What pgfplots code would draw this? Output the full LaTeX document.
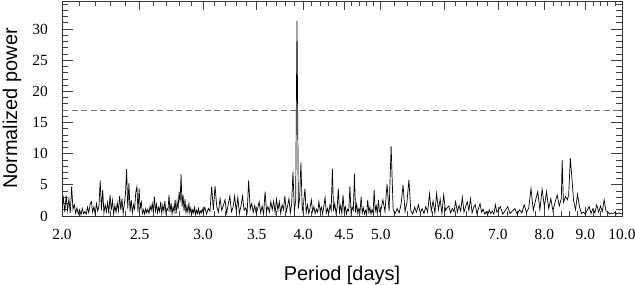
\documentclass[border=0pt]{standalone}
\usepackage{fontspec}
\setmainfont{Liberation Serif}
\newfontfamily\labelfont{Liberation Sans}
\usepackage{pgfplots}
\pgfplotsset{compat=1.18}
\begin{document}
\begin{tikzpicture}
\begin{axis}[
 scale only axis, width=560bp, height=215bp,
 xmode=log, xmin=2, xmax=10, ymin=0, ymax=34.5,
 xtick={2,2.5,3,3.5,4,4.5,5,6,7,8,9,10},
 xticklabels={2.0,2.5,3.0,3.5,4.0,4.5,5.0,6.0,7.0,8.0,9.0,10.0},
 minor xtick={2.1,2.2,2.3,2.4,2.6,2.7,2.8,2.9,3.1,3.2,3.3,3.4,3.6,3.7,3.8,3.9,4.1,4.2,4.3,4.4,4.6,4.7,4.8,4.9,5.2,5.4,5.6,5.8,6.2,6.4,6.6,6.8,7.2,7.4,7.6,7.8,8.2,8.4,8.6,8.8,9.2,9.4,9.6,9.8},
 ytick={0,5,10,15,20,25,30},
 minor ytick={1,2,3,4,6,7,8,9,11,12,13,14,16,17,18,19,21,22,23,24,26,27,28,29,31,32,33,34},
 tick align=inside, tick pos=both,
 major tick length=11bp, minor tick length=6bp,
 xtick style={/pgfplots/major tick length=9bp, /pgfplots/minor tick length=5bp},
 every tick/.style={black!75, line width=0.7bp},
 axis line style={black!80, line width=0.8bp},
 /pgf/number format/assume math mode=true,
 tick label style={font=\fontsize{15.5}{16}\selectfont},
 yticklabel style={anchor=east, inner sep=0pt, xshift=-14bp},
 xticklabel style={anchor=base, inner sep=0pt, yshift=-23bp},
 xlabel={Period [days]}, ylabel={Normalized power},
 label style={font=\labelfont\fontsize{20}{22}\selectfont},
 xlabel style={at={(axis description cs:0.5,-0.2977)}, anchor=base},
 ylabel style={at={(axis description cs:-0.0893,0.5)}, anchor=center},
]
\addplot[black!55, dash pattern=on 6bp off 3.5bp, line width=0.8bp] coordinates {(2,16.9) (10,16.9)};
\addplot[black, line width=0.7bp] coordinates {
(2.000,1.2) (2.008,2.9) (2.016,0.6) (2.024,3.3) (2.032,0.9) (2.040,2.7) (2.048,0.5) (2.056,4.7) (2.064,1.1) (2.072,1.8)
(2.080,0.4) (2.088,1.3) (2.096,0.3) (2.104,1.0) (2.112,0.2) (2.120,1.2) (2.128,0.4) (2.136,0.7) (2.144,0.3) (2.152,1.4)
(2.160,0.5) (2.168,1.9) (2.176,2.3) (2.184,0.6) (2.192,1.5) (2.200,0.3) (2.208,2.0) (2.216,0.8) (2.224,1.6) (2.232,5.7)
(2.240,0.9) (2.248,4.2) (2.256,0.5) (2.264,1.8) (2.272,0.7) (2.280,2.2) (2.288,0.4) (2.296,3.4) (2.304,0.9) (2.312,2.5)
(2.320,0.3) (2.328,1.7) (2.336,0.6) (2.344,2.1) (2.352,0.8) (2.360,3.2) (2.368,1.0) (2.376,2.8) (2.384,0.4) (2.392,1.9)
(2.400,3.5) (2.408,7.5) (2.416,1.2) (2.424,5.3) (2.432,0.7) (2.440,2.6) (2.448,0.5) (2.456,1.8) (2.464,1.1) (2.472,3.8)
(2.480,4.7) (2.488,0.6) (2.496,4.4) (2.504,1.3) (2.512,2.2) (2.520,0.4) (2.528,1.0) (2.536,0.3) (2.544,1.2) (2.552,0.5)
(2.560,1.1) (2.568,0.4) (2.576,1.6) (2.584,0.9) (2.592,2.0) (2.600,0.6) (2.608,3.1) (2.616,0.8) (2.624,1.9) (2.632,0.5)
(2.640,1.4) (2.648,0.7) (2.656,2.3) (2.664,0.4) (2.672,1.7) (2.680,0.8) (2.688,2.4) (2.696,0.5) (2.704,1.2) (2.712,0.9)
(2.720,3.4) (2.728,0.6) (2.736,2.1) (2.744,0.3) (2.752,1.5) (2.760,0.7) (2.768,2.6) (2.776,0.4) (2.784,2.3) (2.792,1.1)
(2.800,3.9) (2.808,2.2) (2.816,6.7) (2.824,1.5) (2.832,3.4) (2.840,0.8) (2.848,2.7) (2.856,0.4) (2.864,1.6) (2.872,0.6)
(2.880,2.0) (2.888,0.5) (2.896,1.3) (2.904,0.3) (2.912,1.0) (2.920,0.5) (2.928,1.4) (2.936,0.2) (2.944,0.9) (2.952,0.4)
(2.960,1.2) (2.968,0.3) (2.976,0.8) (2.984,0.5) (2.992,1.1)
(3.000,0.6) (3.015,1.4) (3.030,0.3) (3.045,1.2) (3.060,0.8) (3.075,4.7) (3.090,1.0) (3.105,4.8) (3.120,1.5) (3.135,0.6)
(3.150,2.8) (3.165,0.9) (3.180,1.7) (3.195,2.6) (3.210,0.5) (3.225,1.9) (3.240,3.2) (3.255,0.7) (3.270,1.4) (3.285,3.2)
(3.300,0.8) (3.315,3.0) (3.330,0.4) (3.345,1.6) (3.360,3.2) (3.375,0.9) (3.390,1.3) (3.405,0.5) (3.420,5.7) (3.435,1.1)
(3.450,2.0) (3.465,0.6) (3.480,1.7) (3.495,0.4) (3.510,1.2) (3.525,2.3) (3.540,0.5) (3.555,1.6) (3.570,0.3) (3.585,3.9)
(3.600,0.8) (3.615,1.5) (3.630,0.6) (3.645,2.3) (3.660,1.0) (3.675,2.4) (3.690,0.5) (3.705,2.7) (3.720,0.9) (3.735,2.3)
(3.750,0.4) (3.765,1.8) (3.780,1.0) (3.795,3.2) (3.810,0.7) (3.825,1.6) (3.840,2.8) (3.855,0.5) (3.870,1.9) (3.885,7.1)
(3.900,0.8) (3.915,2.5) (3.925,22.0) (3.930,31.3) (3.945,1.2) (3.960,2.9) (3.975,8.6) (3.990,0.9) (4.005,2.1) (4.020,4.4)
(4.035,0.6) (4.050,1.8) (4.065,0.4) (4.080,1.3) (4.095,2.6) (4.110,0.7) (4.125,1.5) (4.140,0.4) (4.155,1.1) (4.170,0.6)
(4.185,2.3) (4.200,0.8) (4.215,1.4) (4.230,0.3) (4.245,1.6) (4.260,3.0) (4.275,0.5) (4.290,1.2) (4.305,0.4) (4.320,1.8)
(4.335,0.9) (4.350,7.6) (4.365,0.8) (4.380,2.0) (4.395,0.5) (4.410,1.3) (4.425,4.4) (4.440,0.6) (4.455,1.7) (4.470,0.4)
(4.485,3.4) (4.500,0.7) (4.515,1.5) (4.530,0.3) (4.545,1.1) (4.560,0.8) (4.575,4.8) (4.590,0.5) (4.605,1.4) (4.620,0.9)
(4.635,6.8) (4.650,0.6) (4.665,1.9) (4.680,0.4) (4.695,1.2) (4.710,0.7) (4.725,3.1) (4.740,0.5) (4.755,1.3) (4.770,0.3)
(4.785,0.9) (4.800,0.4) (4.815,2.6) (4.830,0.6) (4.845,1.4) (4.860,0.3) (4.875,1.0) (4.890,0.5) (4.905,4.2) (4.920,0.8)
(4.935,1.6) (4.950,0.4) (4.965,2.6) (4.980,0.7)
(5.00,0.9) (5.03,2.6) (5.06,0.7) (5.09,5.1) (5.12,0.8) (5.15,11.2) (5.18,1.0) (5.21,0.4) (5.24,1.2) (5.27,0.5)
(5.30,1.9) (5.33,5.0) (5.36,0.7) (5.39,2.2) (5.42,5.8) (5.45,0.9) (5.48,0.3) (5.51,1.4) (5.54,0.6) (5.57,1.8)
(5.60,0.5) (5.63,1.2) (5.66,0.4) (5.69,1.5) (5.72,0.6) (5.75,3.6) (5.78,0.8) (5.81,2.4) (5.84,0.5) (5.87,3.6)
(5.90,1.0) (5.93,2.7) (5.96,0.4) (5.99,3.4) (6.02,0.9) (6.05,1.3) (6.08,1.6) (6.11,0.5) (6.14,1.2) (6.17,0.7)
(6.20,2.3) (6.23,0.6) (6.26,1.7) (6.29,0.8) (6.32,3.0) (6.35,0.6) (6.38,1.5) (6.41,2.3) (6.44,0.9) (6.47,2.8)
(6.50,0.5) (6.53,1.4) (6.56,1.8) (6.59,0.4) (6.62,1.2) (6.65,2.0) (6.68,0.6) (6.71,1.1) (6.74,0.3) (6.77,0.7)
(6.80,0.2) (6.83,1.0) (6.86,0.4) (6.89,0.8) (6.92,0.3) (6.95,1.8) (6.98,0.6)
(7.00,0.8) (7.05,1.5) (7.10,0.3) (7.15,0.9) (7.20,1.5) (7.25,0.4) (7.30,0.8) (7.35,1.2) (7.40,0.3) (7.45,1.0)
(7.50,0.5) (7.55,1.8) (7.60,0.6) (7.65,1.3) (7.70,4.4) (7.75,0.9) (7.80,2.5) (7.85,3.9) (7.90,1.0) (7.95,4.3)
(8.00,1.5) (8.05,3.9) (8.10,1.2) (8.15,2.8) (8.20,0.8) (8.25,2.2) (8.30,3.4) (8.35,1.6) (8.40,2.8) (8.42,9.0)
(8.45,2.2) (8.50,3.1) (8.55,2.6) (8.58,3.5) (8.62,9.3) (8.66,6.0) (8.70,2.5) (8.75,1.0) (8.80,3.5) (8.85,1.5)
(8.90,0.4) (8.95,0.6) (9.00,0.3) (9.05,0.9) (9.10,1.5) (9.15,0.4) (9.20,1.2) (9.25,0.5) (9.30,1.8) (9.35,0.6)
(9.40,1.6) (9.45,0.7) (9.50,2.6) (9.55,0.8) (9.60,0.7) (9.65,0.3) (9.70,0.5) (9.75,0.4) (9.80,0.6) (9.85,0.3)
(9.90,0.5) (9.95,0.4) (10.00,0.3)
};
\end{axis}
\pgfresetboundingbox
\path ([shift={(-62bp,-69bp)}]current axis.south west) rectangle ([shift={(13bp,1bp)}]current axis.north east);
\end{tikzpicture}
\end{document}
